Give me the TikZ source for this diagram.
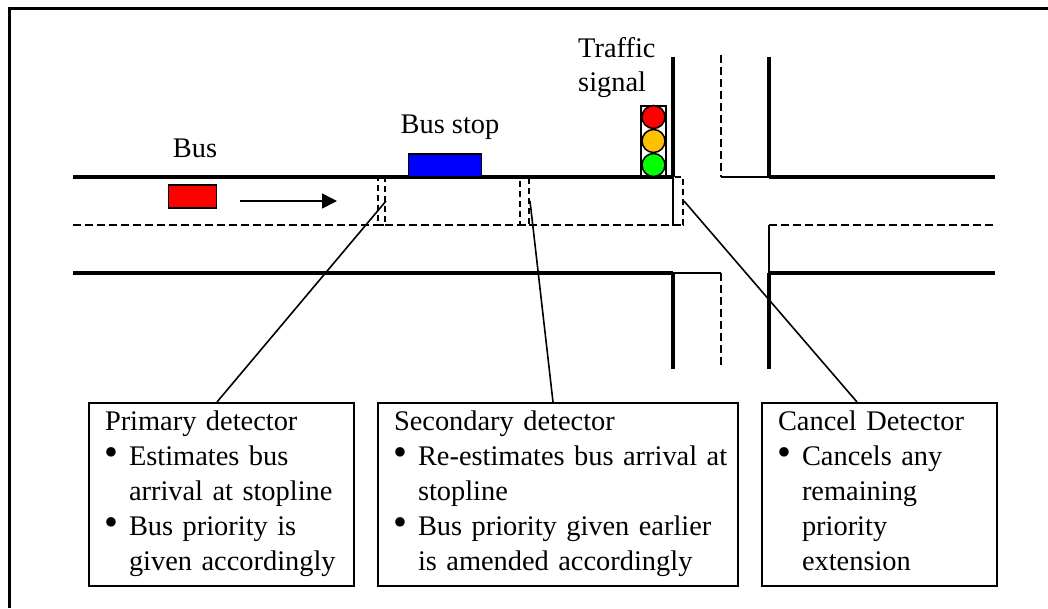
\documentclass[tikz,border=0pt]{standalone}
\usepackage{fontspec}
\setmainfont{Liberation Serif}
\usetikzlibrary{arrows.meta}
\definecolor{amber}{RGB}{255,192,0}
\tikzset{
	road/.style={line width=4pt},
	edge line/.style={line width=2pt},
	lane/.style={line width=2pt, dash pattern=on 7.5pt off 4.5pt},
	detector/.style={draw, line width=2pt, dash pattern=on 6pt off 4pt, inner sep=0pt, minimum height=48pt},
	leader/.style={line width=1.6pt},
	lamp/.style={circle, draw, line width=1.5pt, minimum size=23pt, inner sep=0pt},
	caption/.style={font=\fontsize{28.4}{34.5}\selectfont, inner sep=0pt},
	info box/.style={draw, line width=2pt, anchor=north west, align=left,
		font=\fontsize{28.4}{35}\selectfont, inner sep=0pt}
}
\newcommand{\bitem}[2]{\hspace*{15pt}\makebox[25pt][l]{\scalebox{1.4}{\textbullet}}#1\\\hspace*{40pt}#2}
\newcommand{\boxtop}{\rule{0pt}{27pt}\hspace*{16pt}}
\newcommand{\boxbot}{\rule[-16pt]{0pt}{16pt}}

\begin{document}
\begin{tikzpicture}[x=1pt, y=-1pt]
  \useasboundingbox (0,0) rectangle (1048,608);
  \coordinate (frametop) at (1048,8);
  \coordinate (framecorner) at (9,8);
  \coordinate (framebottom) at (9,608);
  \draw[line width=3pt] (frametop) -- (framecorner) -- (framebottom);

  % road edges
  \draw[road] (73,177) -- (673,177);
  \draw[road] (769,177) -- (995,177);
  \draw[road] (73,273) -- (673,273);
  \draw[road] (769,273) -- (995,273);
  \draw[road] (673,57) -- (673,177);
  \draw[road] (769,57) -- (769,177);
  \draw[road] (673,273) -- (673,369);
  \draw[road] (769,273) -- (769,369);
  \draw[edge line] (721,177) -- (769,177);
  \draw[edge line] (673,273) -- (721,273);
  \draw[edge line] (673,177) -- (673,225) -- (681,225);
  \draw[edge line] (769,273) -- (769,225);
  % lane markings
  \draw[lane] (73,225) -- (673,225);
  \draw[lane] (769,225) -- (995,225);
  \draw[lane] (721,55) -- (721,177);
  \draw[lane] (721,273) -- (721,365);

  % detectors
  \node[detector, minimum width=7pt] (primary) at (381.5,201) {};
  \node[detector, minimum width=9pt] (secondary) at (524.5,201) {};
  \node[detector, minimum width=10pt] (cancel) at (678,201) {};

  % bus and stop
  \node[draw, fill=red, line width=1.5pt, minimum width=48pt, minimum height=23pt, inner sep=0pt] (bus) at (192.5,196.5) {};
  \coordinate (busfrom) at (240,201);
  \coordinate (busto) at (337,201);
  \draw[-{Stealth[length=15pt,width=15pt,inset=0pt]}, line width=1.6pt] (busfrom) -- (busto);
  \node[draw, fill=blue, line width=1.5pt, minimum width=73pt, minimum height=23pt, inner sep=0pt] (stop) at (445,165.5) {};
  \node[caption, anchor=base] (buslabel) at (195,157) {Bus};
  \node[caption, anchor=base] (stoplabel) at (450,133) {Bus stop};
  \node[caption, align=left, anchor=north west] (signallabel) at (578,37) {Traffic\\signal};

  % traffic signal
  \node[draw, line width=1.5pt, minimum width=25pt, minimum height=71pt, inner sep=0pt] (housing) at (653.5,141.5) {};
  \node[lamp, fill=red] (redlamp) at (653.5,117) {};
  \node[lamp, fill=amber] (amberlamp) at (653.5,141) {};
  \node[lamp, fill=green] (greenlamp) at (653.5,165) {};

  % boxes
  \node[info box, text width=265pt] (primarybox) at (88,402)
    {\boxtop Primary detector\\\bitem{Estimates bus}{arrival at stopline}\\\bitem{Bus priority is}{given accordingly\boxbot}};
  \node[info box, text width=360pt] (secondarybox) at (377,402)
    {\boxtop Secondary detector\\\bitem{Re-estimates bus arrival at}{stopline}\\\bitem{Bus priority given earlier}{is amended accordingly\boxbot}};
  \node[info box, text width=235pt] (cancelbox) at (761,402)
    {\boxtop Cancel Detector\\\bitem{Cancels any}{remaining}\\\hspace*{40pt}priority\\\hspace*{40pt}extension\boxbot};

  % leaders
  \coordinate (primaryend) at (217,402);
  \coordinate (secondaryend) at (553,402);
  \coordinate (cancelend) at (857,402);
  \draw[leader] (primary.east) -- (primaryend);
  \draw[leader] (secondary.east) -- (secondaryend);
  \draw[leader] (cancel.east) -- (cancelend);
\end{tikzpicture}
\end{document}
